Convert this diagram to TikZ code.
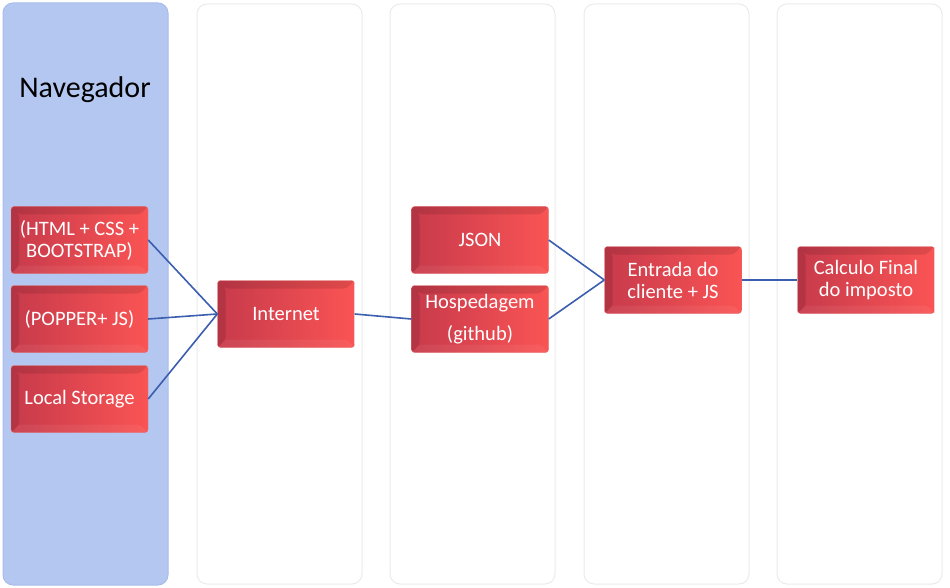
\documentclass[tikz,border=0pt]{standalone}
\usepackage{fontspec}
\setmainfont{Carlito}
\definecolor{lanefill}{HTML}{B4C7F1}
\definecolor{laneedge}{HTML}{A9BDEB}
\definecolor{boxdark}{HTML}{C73A4B}
\definecolor{boxlight}{HTML}{FA5454}
\definecolor{boxedge}{HTML}{E47272}
\definecolor{linkblue}{HTML}{3C5EAE}
\begin{document}
\begin{tikzpicture}[x=1pt,y=-1pt,
    lane/.style={draw=black!8,fill=white,rounded corners=10pt,line width=1pt},
    item/.style={rectangle,minimum width=137pt,minimum height=67pt,inner sep=2pt,text=white,align=center,
      font=\fontsize{20.5}{22}\selectfont,left color=boxdark,right color=boxlight,
      draw=boxedge,rounded corners=3pt,
      path picture={
        \fill[black,opacity=.10] (path picture bounding box.north west) -- (path picture bounding box.north east)
          -- ([xshift=-8pt,yshift=-8pt]path picture bounding box.north east) -- ([xshift=8pt,yshift=-8pt]path picture bounding box.north west) -- cycle;
        \fill[black,opacity=.10] (path picture bounding box.north west) -- ([xshift=8pt,yshift=-8pt]path picture bounding box.north west)
          -- ([xshift=8pt,yshift=8pt]path picture bounding box.south west) -- (path picture bounding box.south west) -- cycle;
        \fill[white,opacity=.06] (path picture bounding box.south west) -- (path picture bounding box.south east)
          -- ([xshift=-8pt,yshift=8pt]path picture bounding box.south east) -- ([xshift=8pt,yshift=8pt]path picture bounding box.south west) -- cycle;
      }},
    link/.style={draw=linkblue,line width=1.6pt}]
\useasboundingbox (0,0) rectangle (950,588);

% lanes
\draw[lane,fill=lanefill,draw=laneedge] (3,3) rectangle (168,585);
\draw[lane] (197,4) rectangle (362,584);
\draw[lane] (390,4) rectangle (555,584);
\draw[lane] (584,4) rectangle (749,584);
\draw[lane] (777,4) rectangle (942,584);
\node[font=\fontsize{30}{34}\selectfont] (nav) at (85,90) {Navegador};

% boxes
\node[item] (html) at (79.5,240) {(HTML + CSS +\\BOOTSTRAP)};
\node[item] (popper) at (79.5,319) {(POPPER+ JS)};
\node[item] (storage) at (79.5,399) {Local Storage};
\node[item] (internet) at (286,314) {Internet};
\node[item] (json) at (480,240) {JSON};
\node[item] (hosting) at (480,319) {Hospedagem\\[10pt](github)};
\node[item] (entrada) at (673,280) {Entrada do\\cliente + JS};
\node[item] (calculo) at (866,280) {Calculo Final\\do imposto};

% links
\draw[link] (html.east) -- (internet.west);
\draw[link] (popper.east) -- (internet.west);
\draw[link] (storage.east) -- (internet.west);
\draw[link] (internet.east) -- (hosting.west);
\draw[link] (json.east) -- (entrada.west);
\draw[link] (hosting.east) -- (entrada.west);
\draw[link] (entrada.east) -- (calculo.west);
\end{tikzpicture}
\end{document}
